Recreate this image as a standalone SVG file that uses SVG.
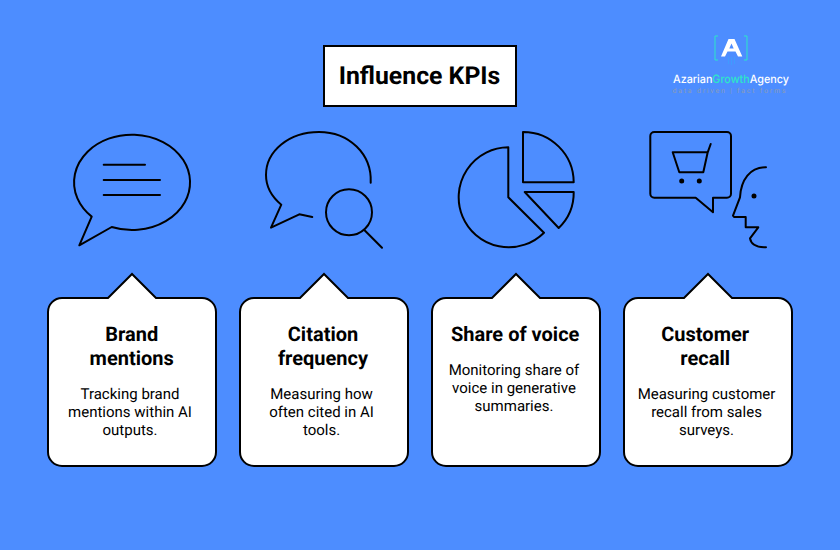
<svg xmlns="http://www.w3.org/2000/svg" width="840" height="550" viewBox="0 0 840 550">
<style>
.i{fill:none;stroke:#000;stroke-width:2;stroke-linejoin:round;stroke-linecap:round}
.c{fill:#fff;stroke:#000;stroke-width:2}
text{font-family:Roboto,"Liberation Sans",sans-serif;text-anchor:middle;fill:#000;text-rendering:geometricPrecision}
.h{font-size:20px;font-weight:700}
.b{font-size:15px}
</style>
<defs><path id="card" class="c" d="M62 298H108L132 274L156 298H202A14 14 0 0 1 216 312V452A14 14 0 0 1 202 466H62A14 14 0 0 1 48 452V312A14 14 0 0 1 62 298Z"/></defs>
<rect width="840" height="550" fill="#4d8dff"/>
<g id="title"><rect x="324" y="46" width="192" height="60" class="c"/><text x="419.500" y="84" font-size="24.800" font-weight="700">Influence KPIs</text></g>
<g id="logo">
<path d="M718 36H715V60H718M744 36H747V60H744" fill="none" stroke="#2ce6c8" stroke-width="1"/>
<path fill-rule="evenodd" d="M721 56.500L728.500 39H734.500L742.300 56.500H738L735.500 51.500H727.500L725 56.500ZM731.500 43.500L729.300 48.500H733.700Z" fill="#fff"/>
<path d="M728.500 57V64M731.500 57V65M734.500 57V64" stroke="#3f9bff" stroke-width="1" fill="none"/>
<text x="731" y="82.500" font-size="11.500" font-weight="500" textLength="116" lengthAdjust="spacingAndGlyphs" style="font-family:Inter,Roboto,sans-serif;fill:#fff">Azarian<tspan style="fill:#2ce6c8">Growth</tspan>Agency</text>
<text x="729" y="92.500" font-size="7" style="fill:#8a9cb8" textLength="113" lengthAdjust="spacing">data driven | fact forms</text>
</g>
<g id="icon-brand" class="i">
<path d="M91.700 216.600A58 47.700 0 1 1 111.700 227L79.300 245.300Z"/>
<path d="M103.700 164.700H145M103.700 180H160M103.700 195H160"/>
</g>
<g id="icon-citation" class="i">
<path d="M370.700 182.700C372 154 349 132 319 132C289 132 266 151 266 175C266 187 272 197 281.300 204.700L271 227.700L299.300 214.300L312.300 217"/>
<circle cx="349" cy="212.300" r="23"/>
<path d="M364.300 230L382 247.700"/>
</g>
<g id="icon-share" class="i">
<path d="M508.300 147.300A50 50 0 1 0 544 232.700L508.300 197.300Z"/>
<path d="M523 132A50.500 50.500 0 0 1 573.700 182.300H523Z"/>
<path d="M524.700 192H573.700A49 49 0 0 1 558.700 228Z"/>
</g>
<g id="icon-recall" class="i">
<path d="M654.300 132H727A4 4 0 0 1 731 136V193.700A4 4 0 0 1 727 197.700H713V212.300L695.700 197.700H654.300A4 4 0 0 1 650.300 193.700V136A4 4 0 0 1 654.300 132Z"/>
<path d="M710.700 144L707.700 152.300L703.300 172.300H679.300L672.700 152.300H707.700"/>
<circle cx="681.700" cy="181" r="1.500" fill="#000"/><circle cx="699.300" cy="181" r="1.500" fill="#000"/><circle cx="754" cy="196" r="1.500" fill="#000"/>
<path d="M766 167.300C750 167 741 180 740 197.300L733 215.700L734 217H745.700V227.300H758.300L750 238.300C751 244 757 247.300 766 247.300"/>
</g>
<g id="card-brand"><use href="#card"/><text x="131.700" y="341" class="h">Brand</text><text x="131.700" y="365" class="h">mentions</text><text x="130" y="399" class="b">Tracking brand</text><text x="130" y="417" class="b">mentions within AI</text><text x="130" y="435" class="b">outputs.</text></g>
<g id="card-citation"><use href="#card" x="192"/><text x="323" y="341" class="h">Citation</text><text x="323" y="365" class="h">frequency</text><text x="321.500" y="399" class="b">Measuring how</text><text x="321.500" y="417" class="b">often cited in AI</text><text x="321.500" y="435" class="b">tools.</text></g>
<g id="card-share"><use href="#card" x="384"/><text x="515.200" y="341" class="h">Share of voice</text><text x="514" y="375" class="b">Monitoring share of</text><text x="514" y="393" class="b">voice in generative</text><text x="514" y="411" class="b">summaries.</text></g>
<g id="card-recall"><use href="#card" x="576"/><text x="705.200" y="341" class="h">Customer</text><text x="705.200" y="365" class="h">recall</text><text x="706.500" y="399" class="b">Measuring customer</text><text x="706.500" y="417" class="b">recall from sales</text><text x="706.500" y="435" class="b">surveys.</text></g>
</svg>
